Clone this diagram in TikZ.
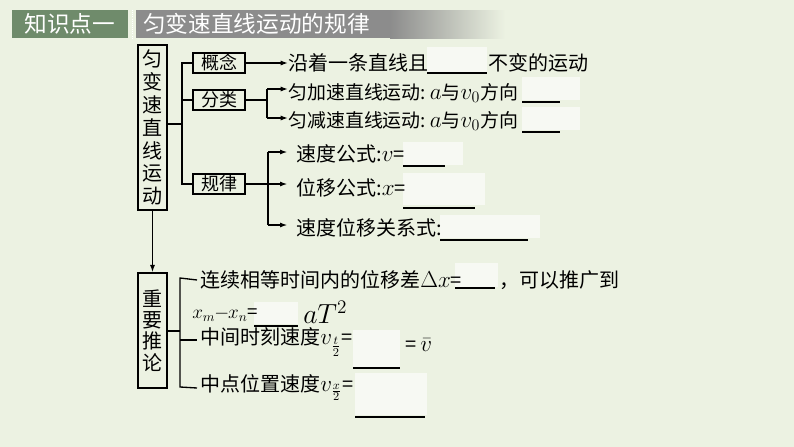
\documentclass[tikz,border=0pt]{standalone}
\usepackage{fontspec}
\setmainfont{Noto Sans CJK SC}
\usetikzlibrary{arrows.meta}
\definecolor{bg}{HTML}{ECF2E2}
\definecolor{hdrgreen}{HTML}{6F8B6B}
\definecolor{hdrgray}{HTML}{8C8C8C}
\definecolor{blankc}{HTML}{F7F9F3}
\newcommand\mm[1]{{\fontsize{18}{18}\selectfont$#1$}}
\begin{document}
\begin{tikzpicture}[x=0.75pt,y=-0.75pt,
  smallbox/.style={draw,line width=1.3pt,inner sep=0pt,minimum width=39pt,minimum height=15.5pt,font=\fontsize{13.5}{15}\selectfont},
  vbox/.style={draw,line width=1.3pt,inner xsep=3pt,inner ysep=0pt,minimum width=21.5pt,align=center},
  txt/.style={anchor=west,inner sep=0pt,font=\fontsize{15}{18}\selectfont},
  txts/.style={anchor=west,inner sep=0pt,font=\fontsize{14.2}{16}\selectfont},
  hdr/.style={text=white,inner sep=0pt,font=\fontsize{17}{20}\selectfont},
  ln/.style={line width=1pt},
  arr/.style={line width=1pt,-{Latex[length=5.5pt,width=3.8pt]}},
  blankfill/.style={fill=blankc},
  uline/.style={line width=1pt}
]
\useasboundingbox (0,0) rectangle (794,447);
\fill[bg] (0,0) rectangle (794,447);
% header
\fill[hdrgreen] (12,10) rectangle (128,38);
\fill[hdrgray] (136,10) rectangle (390,38);
\shade[left color=hdrgray,right color=bg] (390,10) rectangle (505,38);
\draw[white,densely dotted,line width=0.6pt] (132,10) -- (132,38);
\node[hdr] (h1) at (70,24) {知识点一};
\node[hdr,anchor=west] (h2) at (143,24) {匀变速直线运动的规律};

% blank fields (light boxes)
\fill[blankfill] (427,47) rectangle (487,72);
\fill[blankfill] (522,77) rectangle (580,100);
\fill[blankfill] (522,107) rectangle (580,130);
\fill[blankfill] (403,142) rectangle (463,165);
\fill[blankfill] (403,173) rectangle (485,205);
\fill[blankfill] (440,215) rectangle (540,238);
\fill[blankfill] (455,263) rectangle (498,287);
\fill[blankfill] (254,302) rectangle (298,324);
\fill[blankfill] (353,330) rectangle (400,367);
\fill[blankfill] (355,373) rectangle (427,415);

% main vertical box
\node[vbox,minimum height=124pt,font=\fontsize{15}{17.2}\selectfont] (main) at (152.5,127.5) {匀\\变\\速\\直\\线\\运\\动};
% small boxes
\node[smallbox] (gn) at (219,63) {概念};
\node[smallbox] (fl) at (219,100) {分类};
\node[smallbox] (gl) at (219,184) {规律};
\coordinate (j1) at (182,124);
\draw[ln] (main.east |- j1) -- (j1);
\draw[ln] (gn.west) -- (gn.west -| j1) -- (gl.west -| j1) -- (gl.west);
\draw[ln] (fl.west) -- (fl.west -| j1);

% 概念
\node[txt] (t1a) at (288,63) {沿着一条直线且};
\node[txt] (t1b) at (488,63) {不变的运动};
\draw[arr] (gn.east) -- (t1a.west);

% 分类
\coordinate (j2) at (267,100);
\coordinate (j2a) at (267,89);
\coordinate (j2b) at (267,118);
\node[txts] (t2) at (288,93) {匀加速直线运动:\mm{\,a}与\mm{v_0}方向};
\node[txts] (t3) at (288,121) {匀减速直线运动:\mm{\,a}与\mm{v_0}方向};
\draw[ln] (fl.east) -- (j2);
\draw[ln] (j2a) -- (j2b);
\draw[arr] (j2a) -- (j2a -| t2.west);
\draw[arr] (j2b) -- (j2b -| t3.west);

% 规律
\coordinate (j3) at (268,184);
\coordinate (j3a) at (268,152);
\coordinate (j3c) at (268,225);
\node[txt] (r1) at (296,154) {速度公式:\mm{v}=};
\node[txt] (r2) at (296,188) {位移公式:\mm{x}=};
\node[txt] (r3) at (296,228) {速度位移关系式:};
\draw[ln] (gl.east) -- (j3);
\draw[ln] (j3a) -- (j3c);
\draw[arr,shorten >=6.5pt] (j3a) -- (j3a -| r1.west);
\draw[arr,shorten >=6.5pt] (j3) -- (j3 -| r2.west);
\draw[arr,shorten >=6.5pt] (j3c) -- (j3c -| r3.west);

% 重要推论
\node[vbox,minimum height=86pt,font=\fontsize{15}{16}\selectfont] (zy) at (152.5,330.5) {重\\要\\推\\论};
\draw[arr] (main.south) -- (zy.north);
\coordinate (k0) at (180,331);
\coordinate (k1) at (180,278);
\coordinate (k3) at (180,340);
\coordinate (k4) at (180,387);
\draw[ln] (zy.east |- k0) -- (k0);

\node[txt] (s1) at (200,280) {连续相等时间内的位移差\mm{\Delta x}=};
\node[txt] (s1b) at (499,280) {，可以推广到};
\node[txt,font=\fontsize{14}{16}\selectfont] (s2) at (192,314) {$x_m\mkern-1mu{-}\mkern-1mu x_n$=};
\node[txt,font=\fontsize{20}{22}\selectfont] (s2b) at (303,312) {$aT^2$};
\node[txt] (s3) at (200,342) {中间时刻速度\mm{v_{\frac{t}{2}}}=};
\node[txt] (s3b) at (405,345) {=\kern3pt\mm{\bar v}};
\node[txt] (s4) at (200,388) {中点位置速度\mm{v_{\frac{x}{2}}}=};

\draw[ln] (s1.west -| 197,0) -- (k1) -- (k4) -- (s4.west -| 197,0);
\draw[ln] (k3) -- (197,340);

% underlines of the blanks (drawn last)
\draw[uline] (427,73) -- (487,73);
\draw[uline] (522,102) -- (560,102);
\draw[uline] (522,132) -- (560,132);
\draw[uline] (403,166) -- (445,166);
\draw[uline] (403,208) -- (475,208);
\draw[uline] (440,240) -- (528,240);
\draw[uline] (455,288) -- (495,288);
\draw[uline] (254,326) -- (298,326);
\draw[uline] (353,368) -- (400,368);
\draw[uline] (355,417) -- (425,417);
\end{tikzpicture}
\end{document}
